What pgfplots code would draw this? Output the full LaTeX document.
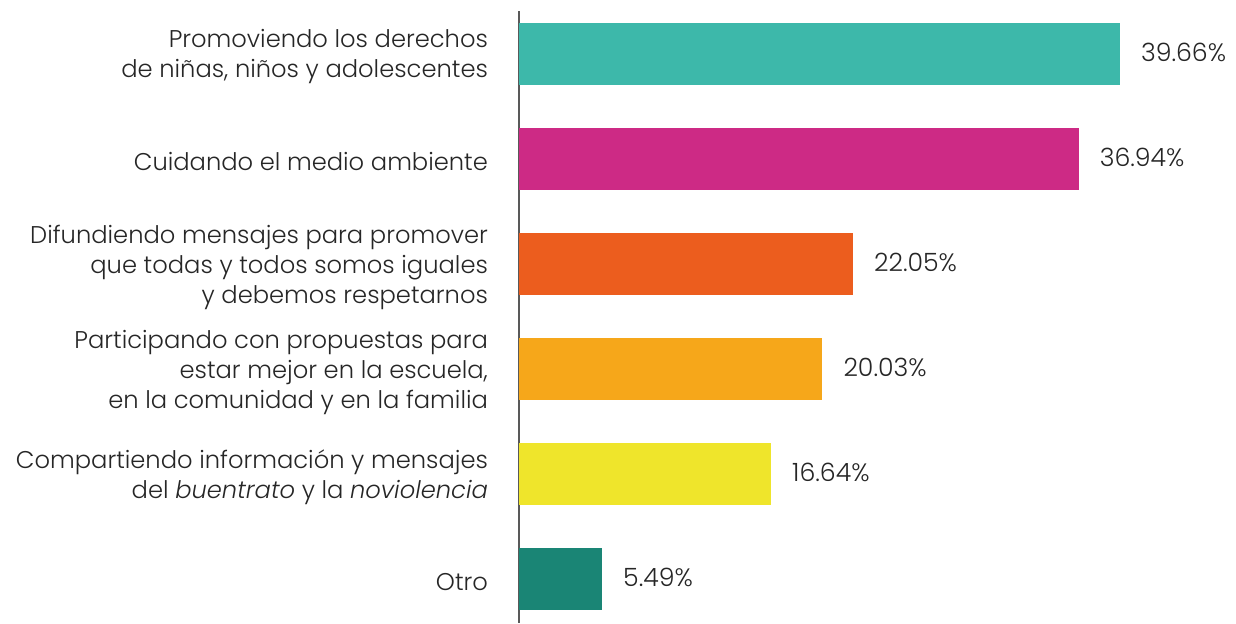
\documentclass[border=0pt]{standalone}
\usepackage{pgfplots}
\pgfplotsset{compat=1.18}
\usepackage{fontspec}
\setmainfont{Poppins}[UprightFont=* Light, ItalicFont=* Light Italic]
\definecolor{c1}{HTML}{3DB8AA}
\definecolor{c2}{HTML}{CD2A85}
\definecolor{c3}{HTML}{EC5D1E}
\definecolor{c4}{HTML}{F6A71A}
\definecolor{c5}{HTML}{EFE52B}
\definecolor{c6}{HTML}{1A8575}
\begin{document}
\begin{tikzpicture}
\useasboundingbox (-259.5pt,0pt) rectangle (358.5pt,311.5pt);
\begin{axis}[
  at={(0,0)}, anchor=south west,
  scale only axis, width=358.5pt, height=306pt,
  xmin=0, xmax=47.32,
  y dir=reverse, ymin=-0.4095, ymax=5.419,
  axis x line=none,
  axis y line*=left,
  y axis line style={-, color=black!65, line width=0.8pt},
  xbar, bar width=31pt, bar shift=0pt,
  ytick={0,1,2,3,4,5},
  major tick length=0pt,
  yticklabels={{Promoviendo los derechos\\de niñas, niños y adolescentes},
    {Cuidando el medio ambiente},
    {Difundiendo mensajes para promover\\que todas y todos somos iguales\\y debemos respetarnos},
    {Participando con propuestas para\\estar mejor en la escuela,\\en la comunidad y en la familia},
    {Compartiendo información y mensajes\\del \textit{buentrato} y la \textit{noviolencia}},
    {Otro}},
  yticklabel style={align=right, font=\fontsize{12.1}{15}\selectfont, text=black!85, xshift=-12pt, yshift=-1.5pt},
  nodes near coords={\pgfmathprintnumber[fixed,precision=2,fixed zerofill]{\pgfplotspointmeta}\%},
  point meta=explicit,
  nodes near coords style={font=\fontsize{12.6}{15}\selectfont, text=black!85, anchor=west, xshift=7pt, yshift=0.75pt},
  /pgf/number format/assume math mode=true,
  clip=false,
]
\addplot[draw=none, fill=c1] coordinates {(39.66,0) [39.66]};
\addplot[draw=none, fill=c2] coordinates {(36.94,1) [36.94]};
\addplot[draw=none, fill=c3] coordinates {(22.05,2) [22.05]};
\addplot[draw=none, fill=c4] coordinates {(20.03,3) [20.03]};
\addplot[draw=none, fill=c5] coordinates {(16.64,4) [16.64]};
\addplot[draw=none, fill=c6] coordinates {(5.49,5) [5.49]};
\end{axis}
\end{tikzpicture}
\end{document}
